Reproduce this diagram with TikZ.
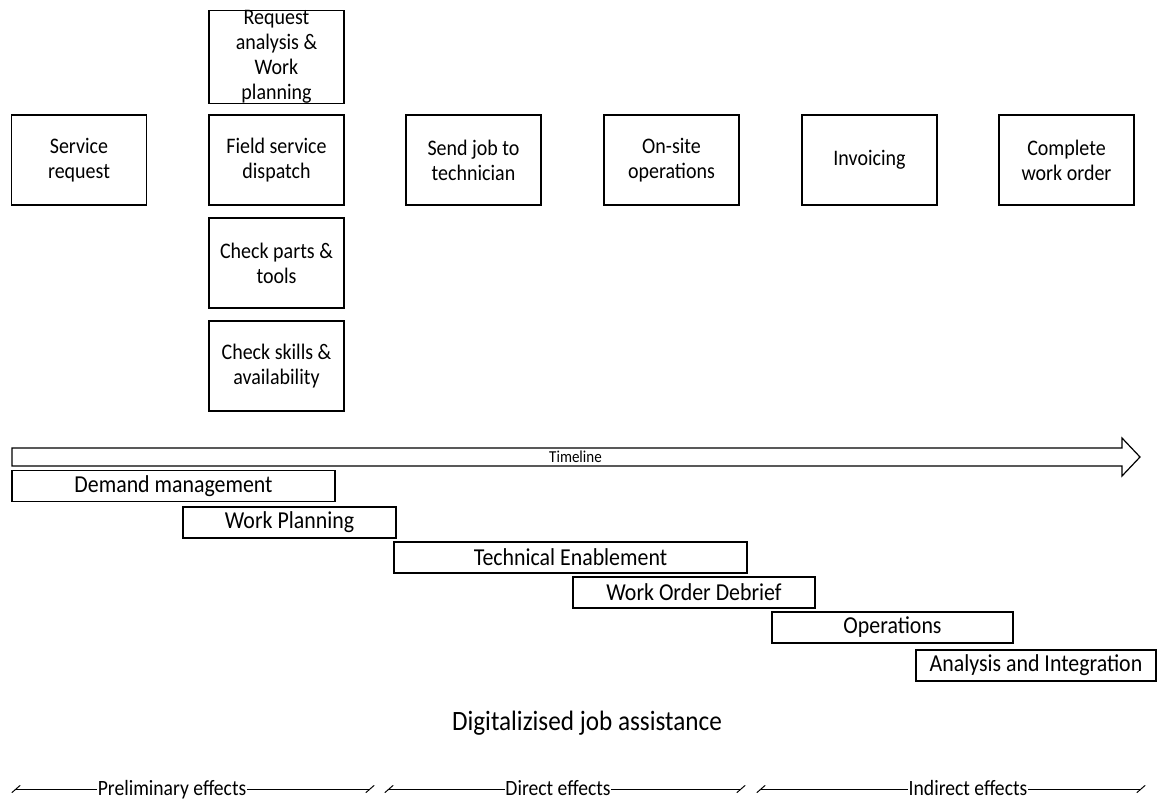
\documentclass[tikz,border=0pt]{standalone}
\usepackage{fontspec}
\setmainfont{Carlito}[FakeStretch=0.9]
\begin{document}
\begin{tikzpicture}[x=1pt,y=-1pt,
  stage/.style={draw, line width=1.2pt, minimum width=135pt, minimum height=90pt,
    align=center, inner sep=0pt, font=\fontsize{22.2}{25}\selectfont},
  phase/.style={draw, line width=1.2pt, minimum height=31pt, inner sep=0pt,
    font=\fontsize{24.3}{26}\selectfont},
  effect/.style={inner sep=0.5pt, anchor=base, font=\fontsize{21.8}{24}\selectfont},
  rule/.style={line width=1pt},
  tick/.style={line width=1pt, line cap=round}]
\useasboundingbox (0,0) rectangle (1157,801);

% process stages
\node[stage] (req)   at (79,160)   {Service\\request};
\node[stage] (plan)  at (276.5,57) {Request\\analysis \&\\Work\\planning};
\node[stage] (disp)  at (276.5,160) {Field service\\dispatch};
\node[stage] (parts) at (276.5,263) {Check parts \&\\tools};
\node[stage] (skill) at (276.5,366) {Check skills \&\\availability};
\node[stage] (send)  at (473.5,160) {Send job to\\technician};
\node[stage] (site)  at (671.5,160) {On-site\\operations};
\node[stage] (inv)   at (869.5,160) {Invoicing};
\node[stage] (done)  at (1066.5,160) {Complete\\work order};

% timeline arrow
\draw[line width=1.2pt] (12,448) -- (1122,448) -- (1122,438) -- (1140,457)
  -- (1122,476) -- (1122,466) -- (12,466) -- cycle;
\node[font=\fontsize{16.7}{18}\selectfont, inner sep=0pt] (tl) at (575.5,457) {Timeline};

% phases
\node[phase, minimum width=323pt] (dm)  at (173.5,486)  {Demand management};
\node[phase, minimum width=213pt] (wp)  at (289.5,522.5) {Work Planning};
\node[phase, minimum width=353pt] (te)  at (570.5,557.5) {Technical Enablement};
\node[phase, minimum width=242pt] (wod) at (694,592.5)  {Work Order Debrief};
\node[phase, minimum width=241pt] (ops) at (892.5,627.5) {Operations};
\node[phase, minimum width=240pt] (ai)  at (1036,665.5) {Analysis and Integration};

\node[font=\fontsize{28}{30}\selectfont] (dja) at (587,723) {Digitalizised job assistance};

% effect ranges
\node[effect] (pre) at (172,795) {Preliminary effects};
\node[effect] (dir) at (558,795) {Direct effects};
\node[effect] (ind) at (968,795) {Indirect effects};

\coordinate (p1) at (16,789);  \coordinate (p2) at (370,789);
\coordinate (d1) at (389,789); \coordinate (d2) at (741,789);
\coordinate (i1) at (761,789); \coordinate (i2) at (1141,789);

\foreach \a/\n/\b in {p1/pre/p2, d1/dir/d2, i1/ind/i2}{
  \draw[rule] (\a) -- (\n.west |- \a);
  \draw[rule] (\n.east |- \b) -- (\b);
  \draw[tick] ([shift={(-4,3.5)}]\a) -- ([shift={(4,-3.5)}]\a);
  \draw[tick] ([shift={(-4,3.5)}]\b) -- ([shift={(4,-3.5)}]\b);
}
\end{tikzpicture}
\end{document}
